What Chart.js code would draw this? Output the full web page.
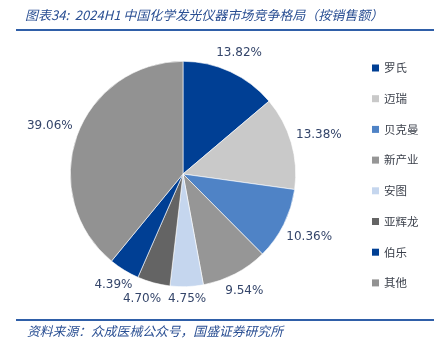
<!DOCTYPE html>
<html>
<head>
<meta charset="utf-8">
<script src="https://cdn.jsdelivr.net/npm/chart.js@4.4.1/dist/chart.umd.min.js"></script>
<style>
  html, body { margin: 0; padding: 0; background: #fff; }
  #wrap { position: relative; width: 434px; height: 351px; }
  canvas { display: block; }
</style>
</head>
<body>
<div id="wrap"><canvas id="myPieChart" width="434" height="351"></canvas></div>
<script>
// data
var titleText = '图表34:  2024H1 中国化学发光仪器市场竞争格局（按销售额）';
var sourceText = '资料来源：众成医械公众号，国盛证券研究所';
var brands = ['罗氏', '迈瑞', '贝克曼', '新产业', '安图', '亚辉龙', '伯乐', '其他'];
var shares = [13.82, 13.38, 10.36, 9.54, 4.75, 4.70, 4.39, 39.06];
var sliceColors = ['#003f94', '#c9c9c9', '#4f83c6', '#969696', '#c5d6ee', '#646464', '#003f94', '#929292'];

var labelFont = '12px "DejaVu Sans", Verdana, sans-serif';
var labelColor = '#34456a';

// percent labels outside each slice, nudged apart when they collide
var outsideLabels = {
  id: 'outsideLabels',
  afterDatasetsDraw: function(chart) {
    var c = chart.ctx;
    var meta = chart.getDatasetMeta(0);
    var placed = [];
    c.save();
    c.font = labelFont;
    c.fillStyle = labelColor;
    c.textAlign = 'center';
    c.textBaseline = 'middle';
    meta.data.forEach(function(arc, i) {
      var p = arc.getProps(['x', 'y', 'startAngle', 'endAngle', 'outerRadius'], true);
      var mid = (p.startAngle + p.endAngle) / 2;
      var txt = shares[i].toFixed(2) + '%';
      var w = c.measureText(txt).width;
      var h = 13;
      var ext = Math.abs(Math.cos(mid)) * w / 2 + Math.abs(Math.sin(mid)) * h / 2;
      var r = p.outerRadius + 5 + ext;
      var x = p.x + Math.cos(mid) * r;
      var y = p.y + Math.sin(mid) * r;
      placed.forEach(function(o) {
        var ox = (w + o.w) / 2 + 7 - Math.abs(x - o.x);
        var oy = (h + o.h) / 2 + 1 - Math.abs(y - o.y);
        if (ox > 0 && oy > 0) {
          if (ox < oy) x += (x < o.x ? -ox : ox);
          else y += (y < o.y ? -oy : oy);
        }
      });
      placed.push({ x: x, y: y, w: w, h: h });
      c.fillText(txt, x, y);
    });
    c.restore();
  }
};

// title, rules, source and the legend column
var frame = {
  id: 'frame',
  afterDraw: function(chart) {
    var c = chart.ctx;
    c.save();
    c.fillStyle = '#2a4f93';
    c.font = 'italic 13px "Noto Sans CJK SC", sans-serif';
    c.textBaseline = 'middle';
    c.textAlign = 'left';
    c.fillText(titleText, 25, 15);

    c.fillStyle = '#2f5fa8';
    c.fillRect(16, 29, 418, 2);
    c.fillRect(16, 319, 418, 2);

    c.fillStyle = '#2a4f93';
    c.font = 'italic 12.8px "Noto Sans CJK SC", sans-serif';
    c.fillText(sourceText, 27, 331);

    c.font = '11.5px "Noto Sans CJK SC", sans-serif';
    brands.forEach(function(b, i) {
      var y = 68 + i * 30.7;
      c.fillStyle = sliceColors[i];
      c.fillRect(372, y - 3.5, 7, 7);
      c.fillStyle = '#3a3f4a';
      c.fillText(b, 384, y);
    });
    c.restore();
  }
};

var ctx = document.getElementById('myPieChart');
new Chart(ctx, {
  type: 'pie',
  data: {
    labels: brands,
    datasets: [{
      data: shares,
      backgroundColor: sliceColors,
      borderColor: '#ffffff',
      borderWidth: 0.6
    }]
  },
  options: {
    responsive: false,
    animation: false,
    layout: {
      padding: { left: 70, right: 138, top: 61, bottom: 64 }
    },
    plugins: {
      legend: { display: false },
      tooltip: { enabled: false }
    }
  },
  plugins: [outsideLabels, frame]
});
</script>
</body>
</html>
